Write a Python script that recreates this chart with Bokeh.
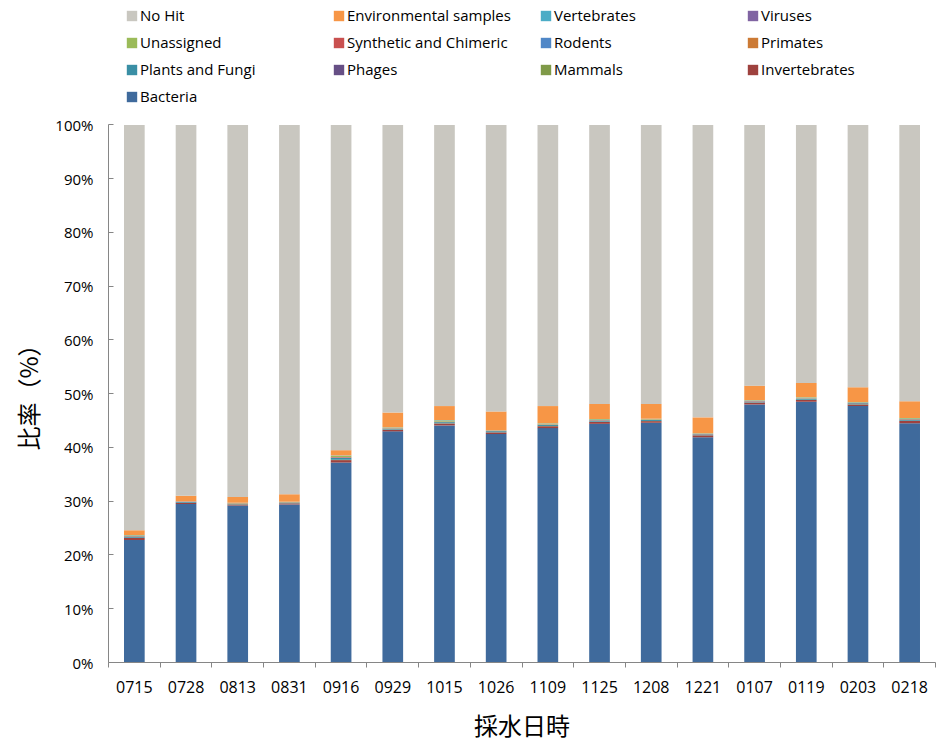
from bokeh.plotting import figure
from bokeh.models import ColumnDataSource, Legend, LegendItem, FixedTicker, Range1d, Title
from bokeh.embed import file_html
from bokeh.resources import INLINE

dates = ["0715", "0728", "0813", "0831", "0916", "0929", "1015", "1026",
         "1109", "1125", "1208", "1221", "0107", "0119", "0203", "0218"]

bacteria      = [22.8, 29.5, 29.2, 29.4, 37.2, 43.0, 44.1, 42.5, 43.6, 44.4, 44.6, 41.9, 48.0, 48.5, 47.7, 44.5]
invertebrates = [0.35, 0.20, 0.20, 0.20, 0.45, 0.30, 0.35, 0.30, 0.35, 0.35, 0.30, 0.35, 0.35, 0.35, 0.30, 0.45]
mammals       = [0.03, 0.02, 0.02, 0.02, 0.05, 0.03, 0.04, 0.02, 0.03, 0.03, 0.02, 0.02, 0.03, 0.03, 0.02, 0.03]
phages        = [0.02, 0.01, 0.01, 0.01, 0.02, 0.01, 0.02, 0.01, 0.02, 0.02, 0.01, 0.01, 0.01, 0.01, 0.01, 0.01]
plants        = [0.25, 0.12, 0.12, 0.12, 0.35, 0.15, 0.20, 0.20, 0.20, 0.20, 0.18, 0.15, 0.15, 0.17, 0.18, 0.22]
primates      = [0.02, 0.01, 0.01, 0.01, 0.03, 0.02, 0.02, 0.02, 0.02, 0.02, 0.02, 0.02, 0.02, 0.02, 0.02, 0.02]
rodents       = [0.02, 0.01, 0.01, 0.01, 0.03, 0.02, 0.02, 0.02, 0.02, 0.02, 0.02, 0.02, 0.02, 0.02, 0.02, 0.02]
synthetic     = [0.08, 0.04, 0.04, 0.04, 0.10, 0.05, 0.06, 0.05, 0.06, 0.06, 0.05, 0.06, 0.06, 0.06, 0.05, 0.07]
unassigned    = [0.08, 0.06, 0.06, 0.06, 0.22, 0.12, 0.22, 0.05, 0.15, 0.15, 0.10, 0.08, 0.10, 0.13, 0.10, 0.12]
viruses       = [0.02, 0.01, 0.01, 0.01, 0.02, 0.01, 0.02, 0.01, 0.01, 0.01, 0.01, 0.01, 0.01, 0.01, 0.01, 0.01]
vertebrates   = [0.05, 0.03, 0.03, 0.03, 0.05, 0.04, 0.05, 0.02, 0.04, 0.04, 0.04, 0.03, 0.05, 0.05, 0.04, 0.05]
environmental = [0.88, 0.99, 1.09, 1.39, 0.98, 2.75, 2.60, 3.50, 3.20, 2.80, 2.75, 2.95, 2.70, 2.65, 2.75, 3.10]
no_hit        = [75.4, 69.0, 69.2, 68.7, 60.5, 53.5, 52.3, 53.3, 52.3, 51.9, 51.9, 54.4, 48.5, 48.0, 48.8, 51.4]

y_ticks = [0, 10, 20, 30, 40, 50, 60, 70, 80, 90, 100]
y_tick_labels = ["0%", "10%", "20%", "30%", "40%", "50%", "60%", "70%", "80%", "90%", "100%"]

# stacking order bottom -> top
series = [
    ("Bacteria", bacteria, "#3F6A9C"),
    ("Invertebrates", invertebrates, "#9E413E"),
    ("Mammals", mammals, "#7F9A48"),
    ("Phages", phages, "#664F85"),
    ("Plants and Fungi", plants, "#3A8FA5"),
    ("Primates", primates, "#CC7A35"),
    ("Rodents", rodents, "#5087C7"),
    ("Synthetic and Chimeric", synthetic, "#C9504F"),
    ("Unassigned", unassigned, "#9BBB59"),
    ("Viruses", viruses, "#8064A2"),
    ("Vertebrates", vertebrates, "#4BACC6"),
    ("Environmental samples", environmental, "#F79646"),
    ("No Hit", no_hit, "#C9C7C0"),
]

xs = [i + 1 for i in range(len(dates))]
data = {"x": xs}
keys = []
for i, (name, vals, col) in enumerate(series):
    k = "s%d" % i
    keys.append(k)
    data[k] = vals
source = ColumnDataSource(data)

FONT = "Open Sans"
JFONT = "Noto Sans CJK JP"

# frame spans the whole top of the page; the y axis is bounded to 0..100 %
FRAME_H = 665
PLOT_H = 540
p = figure(width=938, height=744, output_backend="svg", toolbar_location=None,
           x_range=Range1d(0.5, len(dates) + 0.5),
           y_range=Range1d(0, 100.0 * FRAME_H / PLOT_H),
           min_border_left=107, min_border_right=3, min_border_top=0, min_border_bottom=79)
p.outline_line_color = None
p.xgrid.visible = False
p.ygrid.visible = False

renderers = p.vbar_stack(keys, x="x", width=0.4, color=[s[2] for s in series],
                         source=source, line_color=None)

# legend, row-major order as in reference
order = ["No Hit", "Environmental samples", "Vertebrates", "Viruses",
         "Unassigned", "Synthetic and Chimeric", "Rodents", "Primates",
         "Plants and Fungi", "Phages", "Mammals", "Invertebrates",
         "Bacteria"]
name_to_r = {s[0]: r for s, r in zip(series, renderers)}
items = [LegendItem(label=n, renderers=[name_to_r[n]]) for n in order]
legend = Legend(items=items, orientation="horizontal", ncols=4,
                location=(17, FRAME_H - 109), padding=0, margin=0, spacing=7,
                glyph_width=13, glyph_height=13, label_standoff=2,
                label_width=185, label_height=20,
                label_text_font=FONT, label_text_font_size="15px",
                label_text_color="#000000",
                background_fill_alpha=0, border_line_alpha=0)
p.add_layout(legend, "center")

# axes
ax = p.xaxis[0]
ax.ticker = FixedTicker(ticks=xs, minor_ticks=[i + 0.5 for i in range(len(dates) + 1)])
ax.major_label_overrides = {x: d for x, d in zip(xs, dates)}
ax.major_tick_in = 0
ax.major_tick_out = 0
ax.minor_tick_in = 0
ax.minor_tick_out = 5
ax.minor_tick_line_color = "#868686"
ax.axis_line_color = "#868686"
ax.major_label_text_font = FONT
ax.major_label_text_font_size = "16px"
ax.major_label_text_color = "#000000"
ax.major_label_standoff = 13
ax.axis_label = "採水日時"
ax.axis_label_text_font = JFONT
ax.axis_label_text_font_size = "24px"
ax.axis_label_text_font_style = "normal"
ax.axis_label_text_color = "#000000"
ax.axis_label_standoff = 11

ay = p.yaxis[0]
ay.bounds = (0, 100)
ay.ticker = FixedTicker(ticks=y_ticks, minor_ticks=[])
ay.major_label_overrides = {t: l for t, l in zip(y_ticks, y_tick_labels)}
ay.major_tick_in = 5
ay.major_tick_out = 0
ay.minor_tick_in = 0
ay.minor_tick_out = 0
ay.major_tick_line_color = "#868686"
ay.axis_line_color = "#868686"
ay.major_label_text_font = FONT
ay.major_label_text_font_size = "15px"
ay.major_label_text_color = "#000000"
ay.major_label_standoff = 15

# y axis title, centred on the 0-100 % part of the axis
ytitle = Title(text="比率（%）", align="left", offset=212,
               text_font=JFONT, text_font_size="24px", text_font_style="normal",
               text_color="#000000", standoff=15)
p.add_layout(ytitle, "left")

open("out.html", "w").write(file_html(p, INLINE))
